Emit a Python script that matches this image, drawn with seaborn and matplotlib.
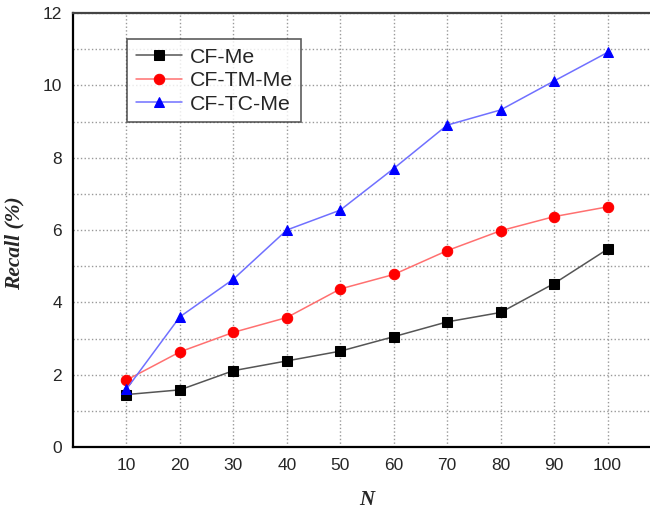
import matplotlib
matplotlib.use("Agg")
import matplotlib.pyplot as plt
import seaborn as sns
import pandas as pd

# --- data ---
n_values = [10, 20, 30, 40, 50, 60, 70, 80, 90, 100]
cf_me = [1.45, 1.58, 2.11, 2.38, 2.65, 3.05, 3.46, 3.72, 4.52, 5.47]
cf_tm_me = [1.85, 2.63, 3.17, 3.58, 4.37, 4.77, 5.43, 5.98, 6.37, 6.64]
cf_tc_me = [1.60, 3.60, 4.64, 6.00, 6.55, 7.70, 8.90, 9.32, 10.12, 10.91]
y_ticks = [0, 2, 4, 6, 8, 10, 12]

sns.set_style("white")
plt.rcParams['font.family'] = ['Liberation Sans', 'DejaVu Sans']

fig = plt.figure(figsize=(6.5, 5.11), dpi=100)
# right spine falls just outside the picture, as in the reference
ax = fig.add_axes([73 / 650, (511 - 447) / 511, (661 - 73) / 650, (447 - 13) / 511])

series = [
    ('CF-Me', cf_me, 's', '#000000', '#555555'),
    ('CF-TM-Me', cf_tm_me, 'o', '#ff0000', '#ff7070'),
    ('CF-TC-Me', cf_tc_me, '^', '#0000ff', '#7070ff'),
]
for name, vals, mk, mcol, lcol in series:
    df = pd.DataFrame({'N': n_values, 'Recall': vals})
    sns.lineplot(data=df, x='N', y='Recall', ax=ax, color=lcol, linewidth=1.1,
                 marker=mk, markersize=7.5, markerfacecolor=mcol,
                 markeredgecolor=mcol, label=name)

ax.set_xlim(0, 110)
ax.set_ylim(0, 12)
ax.set_xticks(n_values)
ax.set_yticks(y_ticks)
ax.set_yticks(range(1, 12, 2), minor=True)
ax.tick_params(axis='both', which='both', length=0, labelsize=12.5, pad=8)
ax.grid(True, axis='x', which='major', linestyle=':', color='#999999', linewidth=1)
ax.grid(True, axis='y', which='both', linestyle=':', color='#999999', linewidth=1)

for side in ['left', 'bottom']:
    ax.spines[side].set_color('black')
    ax.spines[side].set_linewidth(1.6)
ax.spines['top'].set_color('#444444')
ax.spines['top'].set_linewidth(1.6)
ax.spines['right'].set_visible(False)

serif = ['Liberation Serif', 'DejaVu Serif']
ax.set_xlabel('N', fontsize=15, fontweight='bold', fontstyle='italic', family=serif, labelpad=12)
ax.set_ylabel('Recall (%)', fontsize=15.5, fontweight='bold', fontstyle='italic', family=serif)
ax.yaxis.set_label_coords(-0.082, 0.469)

leg = ax.legend(loc='upper left', bbox_to_anchor=(54 / 588, 1 - 26 / 434), borderaxespad=0,
                fontsize=15.3, frameon=True, fancybox=False, handlelength=2.2, borderpad=0.4,
                labelspacing=0.22, handletextpad=0.35)
leg.get_frame().set_edgecolor('#333333')
leg.get_frame().set_linewidth(1.2)

fig.savefig('out.png', dpi=100)
